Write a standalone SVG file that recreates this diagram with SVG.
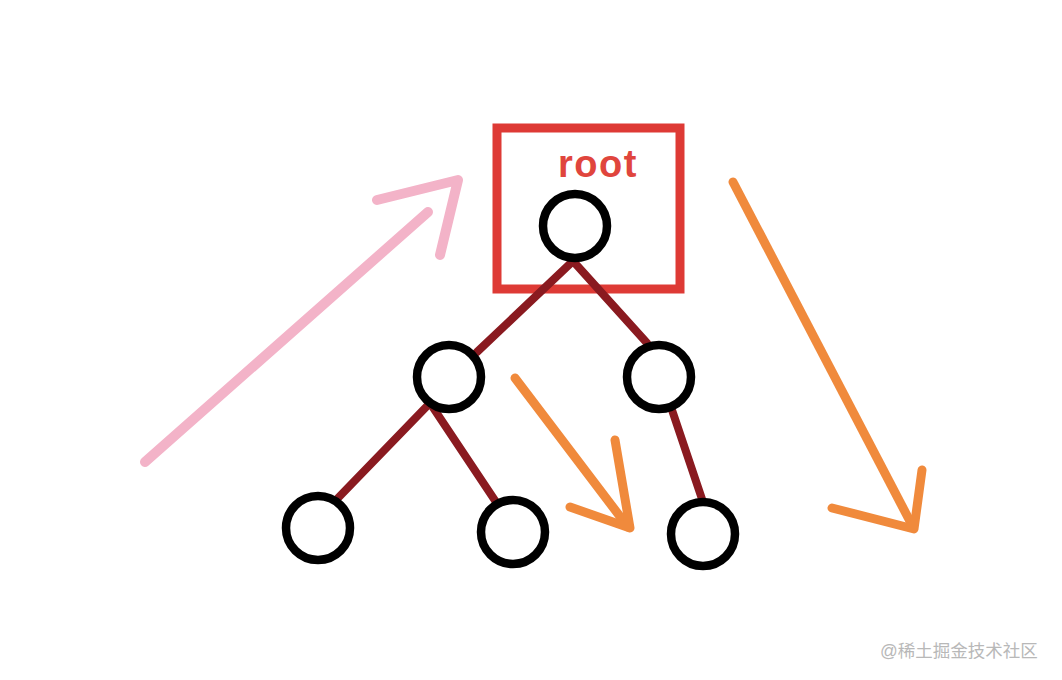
<svg xmlns="http://www.w3.org/2000/svg" width="1062" height="680" viewBox="0 0 1062 680">
<style>
.node{fill:#fff;stroke:#000;stroke-width:8.5}
.edge{stroke:#8a1a20;stroke-width:8;stroke-linecap:round;fill:none}
.pink{stroke:#f3b3c8;stroke-width:10;stroke-linecap:round;stroke-linejoin:round;fill:none}
.orange{stroke:#f08a3c;stroke-width:9;stroke-linecap:round;stroke-linejoin:round;fill:none}
</style>
<rect width="1062" height="680" fill="#fff"/>
<g id="rootbox">
<rect x="497" y="128" width="183" height="161" fill="none" stroke="#de3a35" stroke-width="9"/>
<text x="598" y="177" text-anchor="middle" font-family="Liberation Sans, Arial, sans-serif" font-weight="bold" font-size="38" letter-spacing="1.5" fill="#e0453d">root</text>
</g>
<g id="connectors">
<line class="edge" x1="573" y1="261" x2="477" y2="352"/>
<line class="edge" x1="573" y1="261" x2="647" y2="343"/>
<line class="edge" x1="430" y1="403" x2="338" y2="498"/>
<line class="edge" x1="430" y1="403" x2="498" y2="505"/>
<line class="edge" x1="672" y1="410" x2="703" y2="502"/>
</g>
<g id="n-root"><circle class="node" cx="575" cy="226" r="32"/></g>
<g id="n-left"><circle class="node" cx="449" cy="377" r="32"/></g>
<g id="n-right"><circle class="node" cx="659" cy="377" r="32"/></g>
<g id="n-ll"><circle class="node" cx="318" cy="528" r="32"/></g>
<g id="n-lr"><circle class="node" cx="513" cy="532" r="32"/></g>
<g id="n-rr"><circle class="node" cx="703" cy="534" r="32"/></g>
<g id="arrows">
<path class="pink" d="M145 462 L428 212"/>
<path class="pink" d="M377 200 L458 180 L440 255"/>
<path class="orange" d="M515 378 L628 527"/>
<path class="orange" d="M570 507 L630 528 L615 440"/>
<path class="orange" d="M733 182 L913 527"/>
<path class="orange" d="M832 508 L914 529 L922 470"/>
</g>
<text x="880" y="657" font-family="Liberation Sans, Noto Sans CJK SC, sans-serif" font-size="17.5" fill="#b8b8b8">@稀土掘金技术社区</text>
</svg>
